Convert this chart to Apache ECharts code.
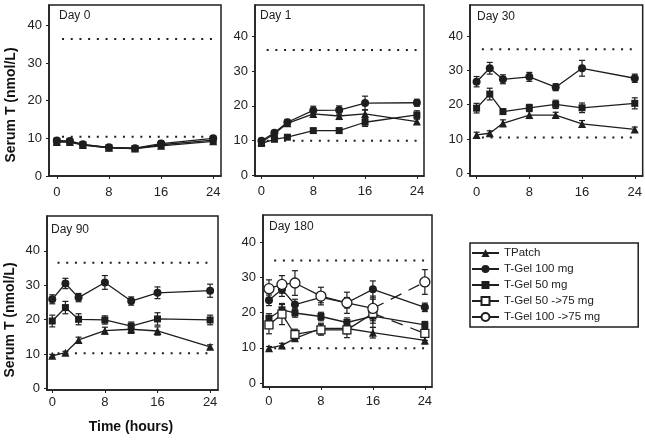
<!DOCTYPE html>
<html>
<head>
<meta charset="utf-8">
<script src="https://cdn.jsdelivr.net/npm/echarts@6/dist/echarts.min.js"></script>
<style>
html,body{margin:0;padding:0;background:#fff;}
#chart{width:645px;height:440px;}
</style>
</head>
<body>
<div id="chart"></div>
<script>
// ---- data ----
const times = [0, 2, 4, 8, 12, 16, 24];
const xTickLabels = [0, 8, 16, 24];
const yTickLabels = [0, 10, 20, 30, 40];
const seriesNames = ['TPatch', 'T-Gel 100 mg', 'T-Gel 50 mg', 'T-Gel 50 ->75 mg', 'T-Gel 100 ->75 mg'];
const panelTitles = ['Day 0', 'Day 1', 'Day 30', 'Day 90', 'Day 180'];
const yTitle = 'Serum T (nmol/L)';
const xTitle = 'Time (hours)';

// reference (normal range) lines per panel [upper, lower]
const refLines = [[36.4, 10.4], [36.1, 10.0], [36.1, 10.5], [36.5, 10.2], [34.8, 9.9]];

const day0_tpatch = [9.0, 9.0, 8.2, 7.5, 7.3, 8.0, 9.2];
const day0_tpatch_err = [0.4, 0.4, 0.4, 0.4, 0.4, 0.7, 0.5];
const day0_gel100 = [9.4, 9.3, 8.4, 7.6, 7.4, 8.6, 10.0];
const day0_gel100_err = [0.5, 0.5, 0.5, 0.4, 0.4, 0.8, 0.6];
const day0_gel50 = [9.2, 9.1, 8.3, 7.5, 7.3, 8.3, 9.5];
const day0_gel50_err = [0.5, 0.4, 0.4, 0.4, 0.4, 0.7, 0.5];

const day1_tpatch = [9.6, 12.0, 15.0, 17.7, 17.1, 17.7, 15.5];
const day1_tpatch_err = [0.5, 0.6, 0.8, 1.0, 1.0, 1.2, 0.8];
const day1_gel100 = [10.0, 12.3, 15.3, 18.7, 18.8, 20.8, 20.9];
const day1_gel100_err = [0.5, 0.6, 0.8, 1.2, 1.2, 2.0, 1.0];
const day1_gel50 = [9.2, 10.4, 11.0, 12.9, 12.9, 15.3, 17.4];
const day1_gel50_err = [0.4, 0.5, 0.5, 0.6, 0.6, 1.2, 1.2];

const day30_tpatch = [11.2, 11.7, 14.6, 17.0, 17.0, 14.4, 12.8];
const day30_tpatch_err = [0.8, 0.7, 1.0, 1.0, 0.8, 1.0, 0.7];
const day30_gel100 = [26.7, 30.6, 27.4, 28.1, 25.1, 30.6, 27.7];
const day30_gel100_err = [1.5, 1.7, 1.3, 1.3, 1.0, 2.3, 1.2];
const day30_gel50 = [19.0, 23.1, 18.0, 19.1, 20.1, 19.1, 20.4];
const day30_gel50_err = [1.4, 1.7, 0.8, 1.0, 1.2, 1.4, 1.6];

const day90_tpatch = [9.5, 10.4, 14.1, 16.8, 17.2, 16.7, 12.1];
const day90_tpatch_err = [0.4, 0.4, 0.8, 1.0, 1.2, 1.2, 0.6];
const day90_gel100 = [25.9, 30.5, 26.4, 30.8, 25.4, 27.8, 28.4];
const day90_gel100_err = [1.3, 1.5, 1.2, 2.0, 1.2, 1.7, 1.9];
const day90_gel50 = [19.6, 23.5, 20.1, 19.9, 18.1, 20.2, 19.9];
const day90_gel50_err = [1.7, 1.8, 1.6, 1.2, 1.2, 1.8, 1.4];

const day180_tpatch = [9.9, 10.7, 12.7, 15.5, 15.5, 14.3, 12.1];
const day180_tpatch_err = [0.5, 0.6, 0.8, 1.5, 1.5, 1.5, 1.0];
const day180_gel100 = [23.5, 26.6, 22.3, 24.3, 22.8, 26.6, 21.5];
const day180_gel100_err = [1.5, 2.0, 1.5, 1.5, 1.5, 2.4, 1.2];
const day180_gel50 = [18.4, 20.8, 19.9, 18.9, 17.2, 19.0, 16.5];
const day180_gel50_err = [1.3, 1.5, 1.2, 1.2, 1.3, 2.0, 1.0];
const day180_gel50to75 = [16.5, 19.6, 13.8, 15.1, 15.1, 19.8, 14.1];
const day180_gel50to75_err = [2.5, 3.0, 1.5, 1.5, 2.2, 4.0, 2.0];
const day180_gel100to75 = [26.8, 28.0, 28.4, 24.7, 22.8, 21.2, 28.7];
const day180_gel100to75_err = [2.5, 2.5, 3.5, 2.5, 3.0, 3.5, 3.5];

// ---- layout / style (not data) ----
const panels = [
  { grid: { left: 49, top: 5, width: 172, height: 171 }, x: [-1.2, 25.2], y: [0, 45.4], xMargin: 10,
    sets: [[0, day0_tpatch, day0_tpatch_err], [1, day0_gel100, day0_gel100_err], [2, day0_gel50, day0_gel50_err]],
    title: [59, 16] },
  { grid: { left: 255, top: 5, width: 169, height: 171 }, x: [-1.0, 25.1], y: [-0.15, 49.0], xMargin: 9,
    sets: [[0, day1_tpatch, day1_tpatch_err], [1, day1_gel100, day1_gel100_err], [2, day1_gel50, day1_gel50_err]],
    title: [260, 16] },
  { grid: { left: 470, top: 5, width: 173, height: 171 }, x: [-1.0, 25.2], y: [-0.73, 49.0], xMargin: 10,
    sets: [[0, day30_tpatch, day30_tpatch_err], [1, day30_gel100, day30_gel100_err], [2, day30_gel50, day30_gel50_err]],
    title: [477, 17] },
  { grid: { left: 47, top: 216, width: 171, height: 174 }, x: [-0.8, 25.2], y: [-0.44, 50.1], xMargin: 6,
    sets: [[0, day90_tpatch, day90_tpatch_err], [1, day90_gel100, day90_gel100_err], [2, day90_gel50, day90_gel50_err]],
    title: [51, 230] },
  { grid: { left: 263, top: 215, width: 169, height: 172 }, x: [-0.92, 25.1], y: [-1.1, 47.7], xMargin: 8,
    sets: [[0, day180_tpatch, day180_tpatch_err], [1, day180_gel100, day180_gel100_err], [2, day180_gel50, day180_gel50_err],
           [3, day180_gel50to75, day180_gel50to75_err], [4, day180_gel100to75, day180_gel100to75_err]],
    title: [269, 227] }
];

const INK = '#1e1e1e';
const FONT = '"Liberation Sans", Arial, sans-serif';
const symbolStyles = [
  { symbol: 'triangle', size: 8, empty: false },
  { symbol: 'circle', size: 8, empty: false },
  { symbol: 'rect', size: 7, empty: false },
  { symbol: 'rect', size: 8, empty: true },
  { symbol: 'circle', size: 10, empty: true }
];

const grids = [], xAxes = [], yAxes = [], series = [], graphics = [];

panels.forEach((p, pi) => {
  grids.push(Object.assign({ show: true, borderColor: INK, borderWidth: 1.5, backgroundColor: 'transparent' }, p.grid));
  xAxes.push({
    type: 'value', gridIndex: pi, min: p.x[0], max: p.x[1],
    axisLine: { show: true, onZero: false, lineStyle: { color: INK, width: 1.5 } },
    axisTick: { show: true, customValues: xTickLabels, length: 3, lineStyle: { color: INK, width: 1 } },
    axisLabel: { customValues: xTickLabels, margin: p.xMargin, fontSize: 13, color: '#222', fontFamily: FONT },
    splitLine: { show: false }
  });
  yAxes.push({
    type: 'value', gridIndex: pi, min: p.y[0], max: p.y[1],
    axisLine: { show: true, onZero: false, lineStyle: { color: INK, width: 1.5 } },
    axisTick: { show: true, customValues: yTickLabels, length: 3, lineStyle: { color: INK, width: 1 } },
    axisLabel: { customValues: yTickLabels, margin: 7, fontSize: 13, color: '#222', fontFamily: FONT },
    splitLine: { show: false }
  });
  // reference dotted lines
  refLines[pi].forEach((v) => {
    series.push({
      type: 'line', name: '_ref', xAxisIndex: pi, yAxisIndex: pi, silent: true, z: 1,
      symbol: 'none', data: [[0.8, v], [24.2, v]],
      lineStyle: { color: INK, width: 2, type: [2, 6.7], cap: 'butt' }
    });
  });
  p.sets.forEach(([si, vals, errs]) => {
    const st = symbolStyles[si];
    const pts = times.map((t, i) => [t, vals[i]]);
    const itemStyle = st.empty
      ? { color: '#fff', borderColor: INK, borderWidth: 1.3 }
      : { color: INK, borderWidth: 0 };
    if (st.empty) {
      // solid part up to 16 h, dashed last segment
      series.push({
        type: 'line', name: seriesNames[si], xAxisIndex: pi, yAxisIndex: pi, z: 3,
        data: pts.slice(0, 6), symbol: st.symbol, symbolSize: st.size, showAllSymbol: true,
        lineStyle: { color: INK, width: 1.3 }, itemStyle: itemStyle
      });
      series.push({
        type: 'line', name: '_tail', xAxisIndex: pi, yAxisIndex: pi, z: 2,
        data: pts.slice(5), symbol: 'none',
        lineStyle: { color: INK, width: 1.3, type: [12, 8] }
      });
      series.push({
        type: 'line', name: '_last', xAxisIndex: pi, yAxisIndex: pi, z: 4,
        data: pts.slice(6), symbol: st.symbol, symbolSize: st.size,
        lineStyle: { width: 0 }, itemStyle: itemStyle
      });
    } else {
      series.push({
        type: 'line', name: seriesNames[si], xAxisIndex: pi, yAxisIndex: pi, z: 3,
        data: pts, symbol: st.symbol, symbolSize: st.size, showAllSymbol: true,
        lineStyle: { color: INK, width: 1.3 }, itemStyle: itemStyle
      });
    }
    // error bars
    series.push({
      type: 'custom', name: '_err', xAxisIndex: pi, yAxisIndex: pi, z: 2, silent: true,
      data: times.map((t, i) => [t, vals[i] - errs[i], vals[i] + errs[i]]),
      encode: { x: 0, y: [1, 2] },
      renderItem: function (params, api) {
        const lo = api.coord([api.value(0), api.value(1)]);
        const hi = api.coord([api.value(0), api.value(2)]);
        const w = 3;
        const ls = { stroke: INK, lineWidth: 1.2 };
        return {
          type: 'group', children: [
            { type: 'line', shape: { x1: lo[0], y1: lo[1], x2: hi[0], y2: hi[1] }, style: ls },
            { type: 'line', shape: { x1: lo[0] - w, y1: lo[1], x2: lo[0] + w, y2: lo[1] }, style: ls },
            { type: 'line', shape: { x1: hi[0] - w, y1: hi[1], x2: hi[0] + w, y2: hi[1] }, style: ls }
          ]
        };
      }
    });
  });
  graphics.push({
    type: 'text', x: p.title[0], y: p.title[1],
    style: { text: panelTitles[pi], font: '12px ' + FONT, fill: '#222', textAlign: 'left', textVerticalAlign: 'middle' }
  });
});

graphics.push({ type: 'text', x: 11, y: 105, rotation: Math.PI / 2,
  style: { text: yTitle, font: 'bold 14px ' + FONT, fill: '#111', textAlign: 'center', textVerticalAlign: 'middle' } });
graphics.push({ type: 'text', x: 10, y: 320, rotation: Math.PI / 2,
  style: { text: yTitle, font: 'bold 14px ' + FONT, fill: '#111', textAlign: 'center', textVerticalAlign: 'middle' } });
graphics.push({ type: 'text', x: 131, y: 427,
  style: { text: xTitle, font: 'bold 14px ' + FONT, fill: '#111', textAlign: 'center', textVerticalAlign: 'middle' } });

const chart = echarts.init(document.getElementById('chart'), null, { renderer: 'canvas' });
chart.setOption({
  animation: false,
  backgroundColor: '#fff',
  color: [INK],
  grid: grids,
  xAxis: xAxes,
  yAxis: yAxes,
  legend: {
    data: seriesNames, orient: 'vertical', left: 470, top: 243,
    itemWidth: 27, itemHeight: 10, itemGap: 4,
    padding: [4, 38, 4, 1],
    borderColor: INK, borderWidth: 1.5,
    textStyle: { fontSize: 11.5, color: '#222', fontFamily: FONT },
    selectedMode: false
  },
  graphic: graphics,
  series: series
});
</script>
</body>
</html>
